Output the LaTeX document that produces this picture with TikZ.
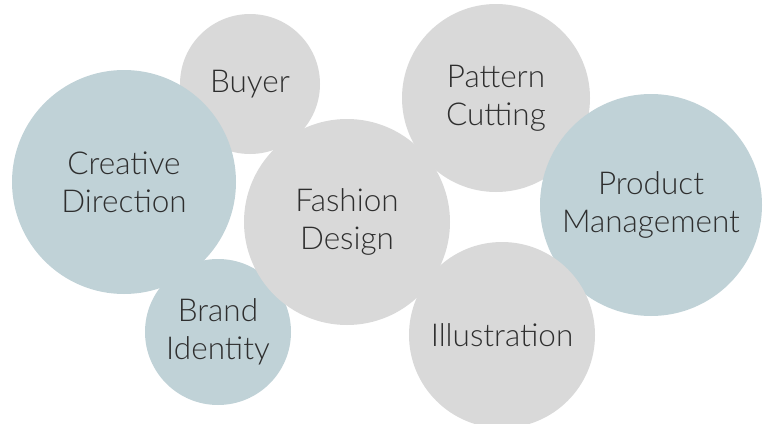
\documentclass[tikz,border=0pt]{standalone}
\usepackage{fontspec}
\setmainfont{Lato}[UprightFont=* Light]

\definecolor{bubblegrey}{HTML}{D9D9D9}
\definecolor{bubbleblue}{HTML}{C0D2D7}
\definecolor{bubbletext}{HTML}{2E2E2E}

\begin{document}
\begin{tikzpicture}[x=1pt, y=-1pt,
    bubble/.style={circle, inner sep=0pt, align=center, text=bubbletext,
      font=\fontsize{31.5}{38}\selectfont},
    greybubble/.style={bubble, fill=bubblegrey},
    bluebubble/.style={bubble, fill=bubbleblue}]
        \useasboundingbox (0,0) rectangle (763,423);

        \node[greybubble, minimum size=140pt] (buyer) at (250,84) {Buyer};
        \node[bluebubble, minimum size=224pt] (creative) at (124,182) {Creative\\Direction};
        \node[bluebubble, minimum size=146pt] (brand) at (218,332) {Brand\\Identity};
        \node[greybubble, minimum size=206pt] (fashion) at (347,222) {Fashion\\Design};
        \node[greybubble, minimum size=188pt] (pattern) at (496,98) {Pattern\\Cutting};
        \node[bluebubble, minimum size=222pt] (product) at (651,205) {Product\\Management};
        \node[greybubble, minimum size=186pt] (illustration) at (502,335) {Illustration};
      \end{tikzpicture}
\end{document}
